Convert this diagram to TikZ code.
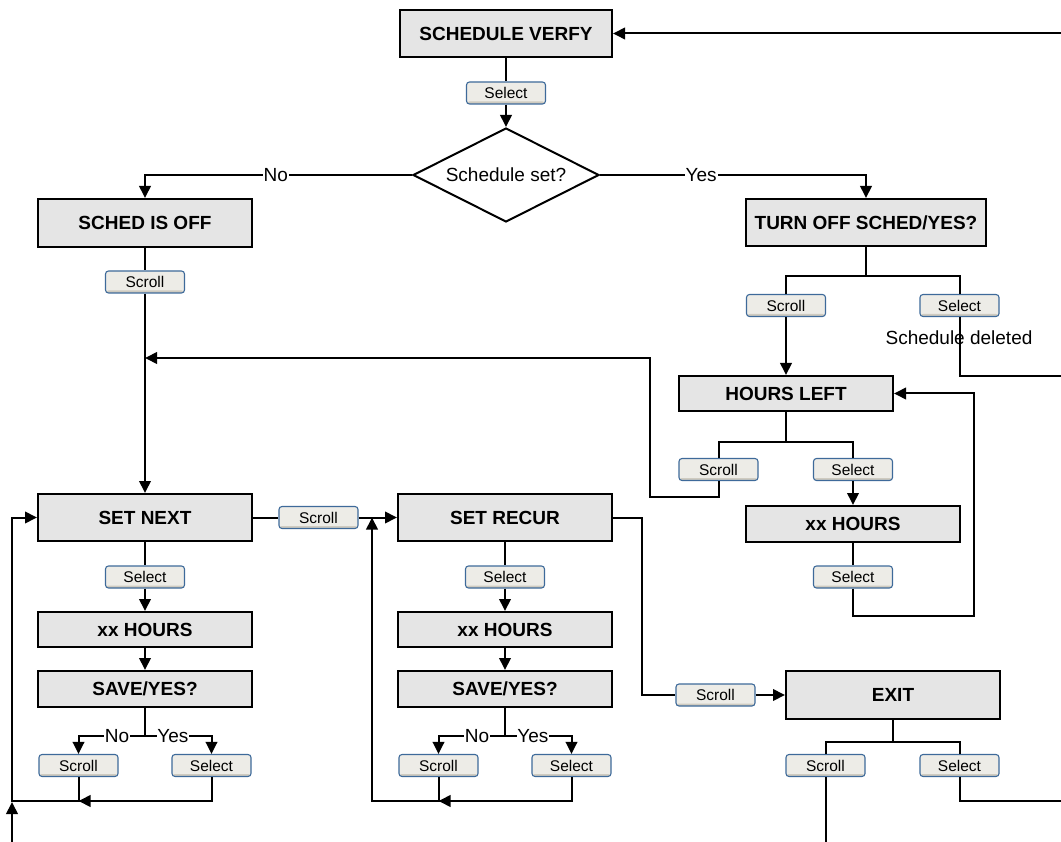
\documentclass[tikz,border=0pt]{standalone}
\usepackage{fontspec}
\setmainfont{Liberation Sans}
\usetikzlibrary{arrows.meta,shapes.geometric}
\definecolor{boxgray}{HTML}{E5E5E5}
\definecolor{btnfill}{HTML}{EDECE7}
\definecolor{btnedge}{HTML}{3E6A9A}
\definecolor{btnshade}{HTML}{CFCBC0}
\tikzset{
  ln/.style={line width=2pt, line join=miter},
  arr/.style={ln, -{Triangle[length=12pt,width=11.5pt]}},
  box/.style={draw, fill=boxgray, line width=2pt, inner sep=0pt,
    font=\fontsize{19}{22}\selectfont\bfseries},
  btn/.style={draw=btnedge, fill=btnfill, line width=1.1pt, rounded corners=3pt,
    minimum width=79pt, minimum height=22pt, inner sep=0pt,
    font=\fontsize{15.5}{17}\selectfont,
    path picture={\fill[btnshade] (path picture bounding box.south west) rectangle ([yshift=2.5pt]path picture bounding box.south east);}},
  lbl/.style={fill=white, inner sep=1pt, font=\fontsize{19}{22}\selectfont},
  txt/.style={inner sep=0pt, font=\fontsize{19}{22}\selectfont},
}
\begin{document}
\begin{tikzpicture}[x=1pt,y=-1pt]
\useasboundingbox (0,0) rectangle (1061,842);
% main boxes
\node[box, minimum width=212pt, minimum height=47pt] (sv) at (506,33.5) {SCHEDULE VERFY};
\node[draw, fill=white, line width=2pt, diamond, aspect=1.98, minimum width=186pt, minimum height=94pt, inner sep=0pt, font=\fontsize{19}{22}\selectfont] (dec) at (506,175) {Schedule set?};
\node[box, minimum width=214pt, minimum height=48pt] (off) at (145,223) {SCHED IS OFF};
\node[box, minimum width=240pt, minimum height=47pt] (toff) at (866,222.5) {TURN OFF SCHED/YES?};
\node[box, minimum width=214pt, minimum height=35pt] (hl) at (786,393.5) {HOURS LEFT};
\node[box, minimum width=214pt, minimum height=36pt] (xxr) at (853,524) {xx HOURS};
\node[box, minimum width=214pt, minimum height=47pt] (sn) at (145,517.5) {SET NEXT};
\node[box, minimum width=214pt, minimum height=47pt] (sr) at (505,517.5) {SET RECUR};
\node[box, minimum width=214pt, minimum height=35pt] (xx1) at (145,629.5) {xx HOURS};
\node[box, minimum width=214pt, minimum height=36pt] (sv1) at (145,689) {SAVE/YES?};
\node[box, minimum width=214pt, minimum height=35pt] (xx2) at (505,629.5) {xx HOURS};
\node[box, minimum width=214pt, minimum height=36pt] (sv2) at (505,689) {SAVE/YES?};
\node[box, minimum width=214pt, minimum height=48pt] (ex) at (893,695) {EXIT};
% buttons
\node[btn] (bsv) at (506,93) {Select};
\node[btn] (boff) at (145,282) {Scroll};
\node[btn] (bts) at (786,305.5) {Scroll};
\node[btn] (btl) at (959.5,305.5) {Select};
\node[btn] (bhs) at (718.5,469.5) {Scroll};
\node[btn] (bhl) at (853,469.5) {Select};
\node[btn] (bxs) at (853,577) {Select};
\node[btn] (bnx) at (318.5,517.5) {Scroll};
\node[btn] (bn1) at (145,577) {Select};
\node[btn] (bn2) at (78.5,765.5) {Scroll};
\node[btn] (bn3) at (211.5,765.5) {Select};
\node[btn] (br1) at (505,577) {Select};
\node[btn] (br2) at (438.5,765.5) {Scroll};
\node[btn] (br3) at (571.5,765.5) {Select};
\node[btn] (brx) at (715.5,695) {Scroll};
\node[btn] (bes) at (825.5,765.5) {Scroll};
\node[btn] (bel) at (959.5,765.5) {Select};
% coordinates
\coordinate (rin) at (1061,33.5);
\coordinate (rdel) at (1061,376);
\coordinate (rex) at (1061,801);
\coordinate (bot1) at (12,842);
\coordinate (bot2) at (825.5,842);
\coordinate (j1) at (145,358);
\coordinate (t1) at (866,276);
\coordinate (h1) at (786,442);
\coordinate (e1) at (893,742);
\coordinate (n1) at (145,736);
\coordinate (r1) at (505,736);
% connectors
\draw[arr] (rin) -- (sv.east);
\draw[ln] (sv.south) -- (bsv.north);
\draw[arr] (bsv.south) -- (dec.north);
\draw[arr] (dec.west) -- node[lbl,pos=0.51]{No} (off.north |- dec.west) -- (off.north);
\draw[arr] (dec.east) -- node[lbl,pos=0.38]{Yes} (toff.north |- dec.east) -- (toff.north);
\draw[ln] (off.south) -- (boff.north);
\draw[arr] (boff.south) -- (sn.north);
\draw[ln] (toff.south) -- (t1);
\draw[ln] (bts.north) |- (t1) -| (btl.north);
\draw[arr] (bts.south) -- (hl.north);
\draw[ln] (btl.south) |- (rdel);
\node[txt] (sdel) at (959,338) {Schedule deleted};
\draw[ln] (hl.south) -- (h1);
\draw[ln] (bhs.north) |- (h1) -| (bhl.north);
\draw[arr] (bhl.south) -- (xxr.north);
\draw[ln] (xxr.south) -- (bxs.north);
\draw[arr] (bxs.south) -- (853,616) -- (974,616) -- (974,393.5) -- (hl.east);
\draw[arr] (bhs.south) -- (718.5,497) -- (650,497) -- (650,358) -- (j1);
\draw[ln] (sn.east) -- (bnx.west);
\draw[arr] (bnx.east) -- (sr.west);
% set next column
\draw[ln] (sn.south) -- (bn1.north);
\draw[arr] (bn1.south) -- (xx1.north);
\draw[arr] (xx1.south) -- (sv1.north);
\draw[ln] (sv1.south) -- (n1);
\draw[arr] (n1) -- node[lbl,pos=0.42,inner sep=0.5pt]{No} (bn2.north |- n1) -- (bn2.north);
\draw[arr] (n1) -- node[lbl,pos=0.42,inner sep=0.5pt]{Yes} (bn3.north |- n1) -- (bn3.north);
\draw[arr] (bn3.south) -- (211.5,801) -- (78.5,801);
\draw[arr] (bn2.south) -- (78.5,801) -- (12,801) -- (12,517.5) -- (sn.west);
\draw[arr] (bot1) -- (12,802);
% set recur column
\draw[ln] (sr.south) -- (br1.north);
\draw[arr] (br1.south) -- (xx2.north);
\draw[arr] (xx2.south) -- (sv2.north);
\draw[ln] (sv2.south) -- (r1);
\draw[arr] (r1) -- node[lbl,pos=0.42,inner sep=0.5pt]{No} (br2.north |- r1) -- (br2.north);
\draw[arr] (r1) -- node[lbl,pos=0.42,inner sep=0.5pt]{Yes} (br3.north |- r1) -- (br3.north);
\draw[arr] (br3.south) -- (571.5,801) -- (438.5,801);
\draw[arr] (br2.south) -- (438.5,801) -- (372,801) -- (372,517.5);
% exit
\draw[ln] (sr.east) -- (642,517.5) -- (642,695) -- (brx.west);
\draw[arr] (brx.east) -- (ex.west);
\draw[ln] (ex.south) -- (e1);
\draw[ln] (bes.north) |- (e1) -| (bel.north);
\draw[ln] (bes.south) -- (bot2);
\draw[ln] (bel.south) |- (rex);
\end{tikzpicture}
\end{document}
